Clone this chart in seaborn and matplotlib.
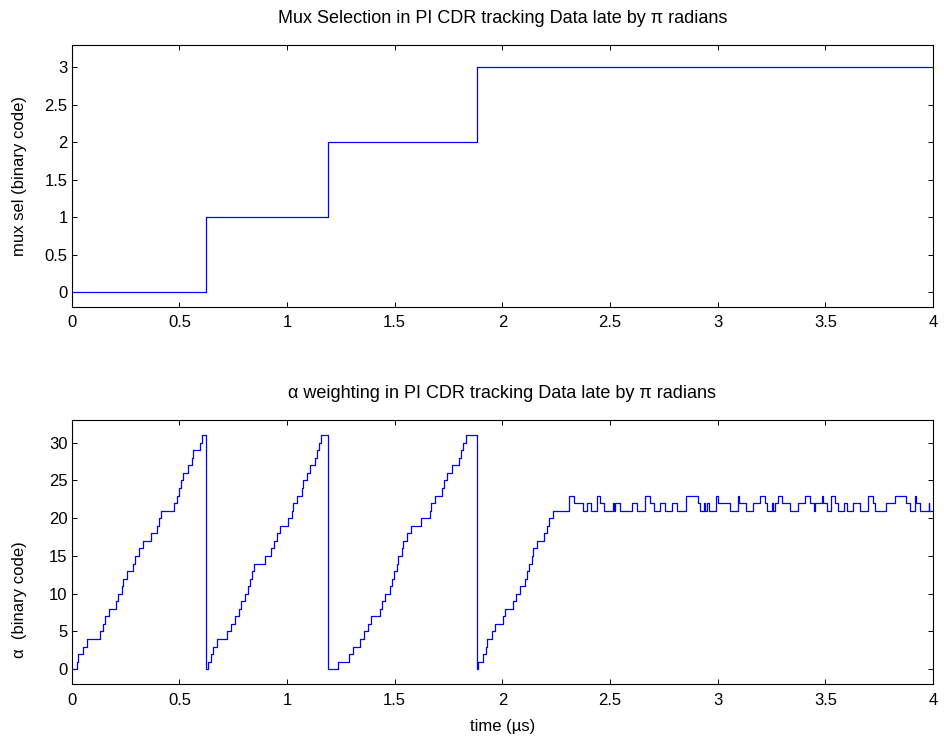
import matplotlib
matplotlib.use("Agg")
import matplotlib.pyplot as plt
import seaborn as sns
import pandas as pd

# ---- data ----
mux_t = [0.0, 0.624, 1.189, 1.881, 4.0]
mux_v = [0, 1, 2, 3, 3]

alpha_t = [
    0.000, 0.023, 0.031, 0.051, 0.070, 0.131, 0.144, 0.155, 0.175, 0.206,
    0.217, 0.232, 0.237, 0.255, 0.286, 0.294, 0.314, 0.333, 0.367, 0.395,
    0.407, 0.415, 0.477, 0.488, 0.498, 0.506, 0.518, 0.542, 0.557, 0.565,
    0.596, 0.604, 0.624,
    0.635, 0.646, 0.658, 0.676, 0.720, 0.738, 0.758, 0.779, 0.785, 0.805,
    0.820, 0.828, 0.839, 0.847, 0.899, 0.926, 0.940, 0.952, 0.968, 1.006,
    1.022, 1.029, 1.048, 1.068, 1.076, 1.091, 1.107, 1.130, 1.138, 1.146,
    1.157, 1.189,
    1.235, 1.289, 1.308, 1.339, 1.359, 1.378, 1.390, 1.432, 1.440, 1.455,
    1.478, 1.486, 1.497, 1.510, 1.517, 1.533, 1.540, 1.559, 1.575, 1.621,
    1.664, 1.669, 1.687, 1.721, 1.731, 1.742, 1.768, 1.800, 1.807, 1.819,
    1.830, 1.881,
    1.889, 1.909, 1.924, 1.930, 1.951, 1.966, 2.005, 2.013, 2.051, 2.064,
    2.082, 2.105, 2.116, 2.125, 2.137, 2.141, 2.160, 2.191, 2.205, 2.218,
    2.237,
    2.311, 2.334, 2.373, 2.392, 2.411, 2.438, 2.451, 2.474, 2.513, 2.519,
    2.523, 2.547, 2.601, 2.624, 2.663, 2.686, 2.705, 2.732, 2.756, 2.787,
    2.810, 2.852, 2.908, 2.918, 2.934, 2.942, 2.950, 2.958, 2.991, 3.000,
    3.058, 3.094, 3.099, 3.130, 3.162, 3.195, 3.220, 3.228, 3.251, 3.259,
    3.267, 3.280, 3.300, 3.336, 3.372, 3.406, 3.429, 3.445, 3.452, 3.483,
    3.488, 3.507, 3.527, 3.545, 3.558, 3.588, 3.600, 3.630, 3.661, 3.700,
    3.719, 3.731, 3.781, 3.821, 3.874, 3.894, 3.914, 3.920, 3.940, 3.979,
    3.983, 4.000,
]
alpha_v = [
    0, 1, 2, 3, 4, 5, 6, 7, 8, 9,
    10, 11, 12, 13, 14, 15, 16, 17, 18, 19,
    20, 21, 22, 23, 24, 25, 26, 27, 28, 29,
    30, 31, 0,
    1, 2, 3, 4, 5, 6, 7, 8, 9, 10,
    11, 12, 13, 14, 15, 16, 17, 18, 19, 20,
    21, 22, 23, 24, 25, 26, 27, 28, 29, 30,
    31, 0,
    1, 2, 3, 4, 5, 6, 7, 8, 9, 10,
    11, 12, 13, 14, 15, 16, 17, 18, 19, 20,
    21, 22, 23, 24, 25, 26, 27, 28, 29, 30,
    31, 0,
    1, 2, 3, 4, 5, 6, 7, 8, 9, 10,
    11, 12, 13, 14, 15, 16, 17, 18, 19, 20,
    21,
    23, 22, 21, 22, 21, 23, 22, 21, 22, 21,
    22, 21, 22, 21, 23, 22, 21, 22, 21, 22,
    21, 23, 22, 21, 22, 21, 22, 21, 23, 22,
    21, 23, 22, 21, 22, 23, 22, 21, 22, 21,
    22, 23, 22, 21, 22, 23, 22, 21, 22, 23,
    22, 21, 23, 22, 21, 22, 21, 22, 21, 23,
    22, 21, 22, 23, 22, 21, 23, 22, 21, 22,
    21, 21,
]

x_ticks = [0, 0.5, 1, 1.5, 2, 2.5, 3, 3.5, 4]
x_labels = ["0", "0.5", "1", "1.5", "2", "2.5", "3", "3.5", "4"]
mux_ticks = [0, 0.5, 1, 1.5, 2, 2.5, 3]
mux_labels = ["0", "0.5", "1", "1.5", "2", "2.5", "3"]
alpha_ticks = [0, 5, 10, 15, 20, 25, 30]

# ---- style ----
sns.set_style("ticks")
plt.rcParams["font.family"] = ["Liberation Sans", "DejaVu Sans"]
plt.rcParams.update({
    "xtick.direction": "in", "ytick.direction": "in",
    "xtick.top": True, "ytick.right": True,
    "xtick.major.size": 3.5, "ytick.major.size": 3.5,
    "xtick.major.width": 0.7, "ytick.major.width": 0.7,
    "xtick.major.pad": 6, "ytick.major.pad": 3,
    "axes.linewidth": 0.8, "axes.edgecolor": "black",
    "xtick.color": "black", "ytick.color": "black",
    "text.color": "black", "axes.labelcolor": "black",
    "font.size": 12,
})

fig = plt.figure(figsize=(9.44, 7.42), dpi=100)
ax1 = fig.add_axes([0.076, 0.5863, 0.9124, 0.3531])
ax2 = fig.add_axes([0.076, 0.0778, 0.9124, 0.356])

df_mux = pd.DataFrame({"t": mux_t, "v": mux_v})
df_alpha = pd.DataFrame({"t": alpha_t, "v": alpha_v})

sns.lineplot(data=df_mux, x="t", y="v", ax=ax1, color="#0000FF",
             linewidth=0.9, drawstyle="steps-post", estimator=None, sort=False)
sns.lineplot(data=df_alpha, x="t", y="v", ax=ax2, color="#0000FF",
             linewidth=0.9, drawstyle="steps-post", estimator=None, sort=False)

ax1.set_xlim(0, 4)
ax1.set_ylim(-0.2, 3.3)
ax1.set_xticks(x_ticks)
ax1.set_xticklabels(x_labels)
ax1.set_yticks(mux_ticks)
ax1.set_yticklabels(mux_labels)
ax1.set_xlabel("")
ax1.set_ylabel("mux sel (binary code)", fontsize=12)
ax1.yaxis.set_label_coords(-0.052, 0.5)
ax1.set_title("Mux Selection in PI CDR tracking Data late by π radians",
              fontsize=13, pad=16)

ax2.set_xlim(0, 4)
ax2.set_ylim(-2, 33)
ax2.set_xticks(x_ticks)
ax2.set_xticklabels(x_labels)
ax2.set_yticks(alpha_ticks)
ax2.set_xlabel("time (µs)", fontsize=12, labelpad=8)
ax2.set_ylabel("α  (binary code)", fontsize=12)
ax2.yaxis.set_label_coords(-0.052, 0.32)
ax2.set_title("α weighting in PI CDR tracking Data late by π radians",
              fontsize=13, pad=16)

for ax in (ax1, ax2):
    for s in ax.spines.values():
        s.set_visible(True)
    ax.tick_params(labelsize=12)

fig.savefig("out.png", dpi=100, facecolor="white")
